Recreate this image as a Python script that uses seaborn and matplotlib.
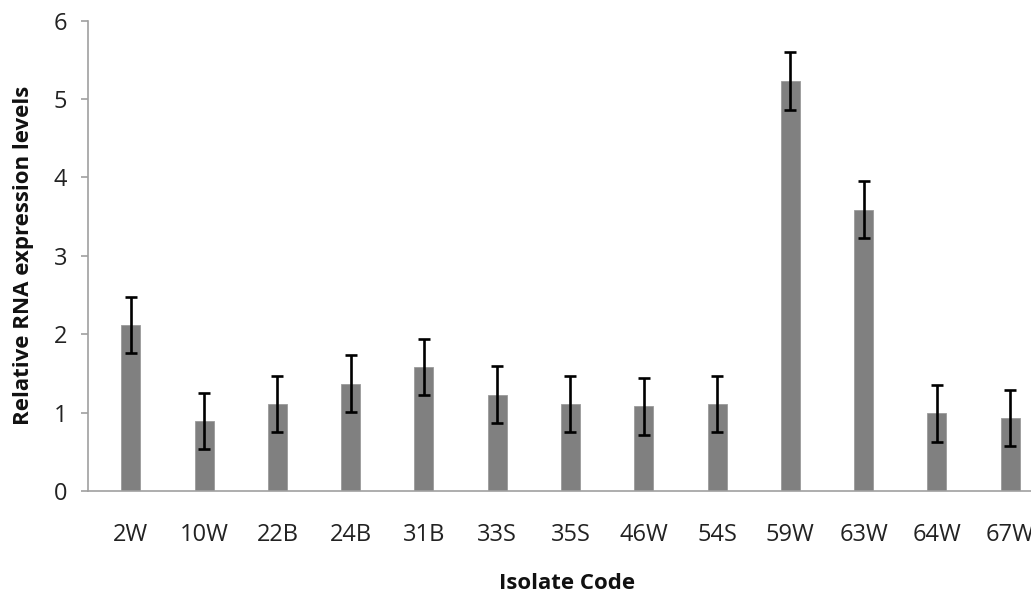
import matplotlib
matplotlib.use("Agg")
import matplotlib.pyplot as plt
import seaborn as sns
import pandas as pd
import numpy as np

isolates = ["2W", "10W", "22B", "24B", "31B", "33S", "35S", "46W", "54S", "59W", "63W", "64W", "67W"]
expression = [2.12, 0.89, 1.11, 1.37, 1.58, 1.23, 1.11, 1.08, 1.11, 5.23, 3.59, 0.99, 0.93]
errors = [0.355, 0.36, 0.36, 0.36, 0.36, 0.36, 0.355, 0.36, 0.355, 0.37, 0.36, 0.36, 0.355]
y_ticks = [0, 1, 2, 3, 4, 5, 6]

df = pd.DataFrame({"Isolate": isolates, "Expression": expression})

sns.set_theme(style="white")
plt.rcParams["font.family"] = ["Open Sans", "DejaVu Sans"]

fig = plt.figure(figsize=(10.31, 5.94), dpi=100)
ax = fig.add_axes([88 / 1031, 103 / 594, 958.75 / 1031, 470.4 / 594])

sns.barplot(data=df, x="Isolate", y="Expression", color="#808080", saturation=1,
            width=0.26, errorbar=None, ax=ax, edgecolor="#9a9a9a", linewidth=0.6)

ax.errorbar(np.arange(len(isolates)), expression, yerr=errors, fmt="none",
            ecolor="black", elinewidth=1.9, capsize=4.6, capthick=1.9, zorder=5)

ax.set_xlim(-0.585, 12.5)
ax.set_ylim(0, 6)
ax.set_yticks(y_ticks)
ax.set_yticklabels([str(t) for t in y_ticks])

for side in ["top", "right"]:
    ax.spines[side].set_visible(False)
for side in ["left", "bottom"]:
    ax.spines[side].set_color("#a0a0a0")
    ax.spines[side].set_linewidth(1.2)

ax.tick_params(axis="y", which="both", left=True, length=5, width=1.2, color="#a0a0a0",
               labelsize=17, pad=10, labelcolor="#222222")
ax.tick_params(axis="x", which="both", bottom=False, labelsize=17, pad=17, labelcolor="#222222")

ax.set_xlabel("Isolate Code", fontsize=16, fontweight="bold", labelpad=19, color="#111111")
ax.set_ylabel("Relative RNA expression levels", fontsize=16, fontweight="bold", labelpad=14, color="#111111")

fig.savefig("out.png", dpi=100)
